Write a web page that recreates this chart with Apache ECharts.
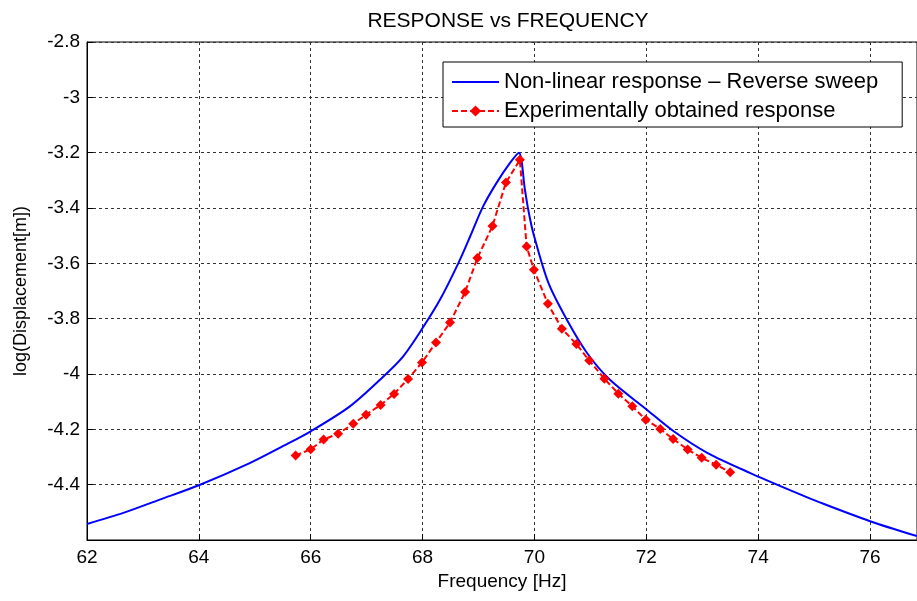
<!DOCTYPE html>
<html>
<head>
<meta charset="utf-8">
<script src="https://cdn.jsdelivr.net/npm/echarts@6/dist/echarts.min.js"></script>
<style>html,body{margin:0;padding:0;background:#fff}#c{width:917px;height:601px}</style>
</head>
<body>
<div id="c"></div>
<script>
// Non-linear response – Reverse sweep
const nlFreq = [62.0, 62.65, 63.3, 64.0, 64.91, 65.51, 66.0, 66.7, 67.3, 67.65, 68.0, 68.31, 68.64, 68.85, 69.08, 69.32, 69.56, 69.72, 69.83, 69.89, 69.98, 70.25, 70.58, 70.94, 71.35, 72.01, 72.49, 73.09, 73.86, 74.75, 75.1, 76.0, 76.84];
const nlDisp = [-4.542, -4.502, -4.454, -4.402, -4.322, -4.260, -4.207, -4.117, -4.009, -3.937, -3.834, -3.732, -3.599, -3.503, -3.395, -3.310, -3.238, -3.200, -3.334, -3.407, -3.491, -3.671, -3.804, -3.924, -4.021, -4.129, -4.207, -4.285, -4.358, -4.435, -4.464, -4.532, -4.586];
// Experimentally obtained response
const expFreq = [65.73, 66.0, 66.23, 66.49, 66.76, 66.99, 67.25, 67.49, 67.74, 67.99, 68.24, 68.49, 68.76, 68.98, 69.25, 69.49, 69.74, 69.86, 69.99, 70.24, 70.49, 70.75, 70.98, 71.25, 71.5, 71.75, 71.99, 72.25, 72.48, 72.74, 72.99, 73.25, 73.5];
const expDisp = [-4.295, -4.272, -4.237, -4.216, -4.180, -4.147, -4.112, -4.072, -4.018, -3.958, -3.886, -3.814, -3.704, -3.581, -3.465, -3.308, -3.226, -3.539, -3.623, -3.746, -3.836, -3.892, -3.951, -4.017, -4.071, -4.117, -4.165, -4.199, -4.235, -4.273, -4.303, -4.328, -4.355];
const seriesNames = ['Non-linear response \u2013 Reverse sweep', 'Experimentally obtained response'];
const titleText = 'RESPONSE vs FREQUENCY';
const xName = 'Frequency [Hz]';
const yName = 'log(Displacement[m])';
const xRange = [62, 76.84];
const yRange = [-4.6, -2.8];

const zip = (a, b) => a.map((v, i) => [v, b[i]]);
const FONT = '"Liberation Sans", Arial, Helvetica, sans-serif';
const chart = echarts.init(document.getElementById('c'), null, {renderer: 'canvas'});
chart.setOption({
  animation: false,
  backgroundColor: '#fff',
  textStyle: {fontFamily: FONT},
  title: {
    text: titleText, left: 503, top: 6, textAlign: 'center',
    textStyle: {fontFamily: FONT, fontSize: 21, fontWeight: 'normal', color: '#000'}
  },
  grid: {left: 87, top: 42, right: 0, bottom: 61, show: true, borderColor: '#000', borderWidth: 1, backgroundColor: 'transparent'},
  legend: {
    orient: 'vertical', left: 443, top: 62,
    backgroundColor: '#fff', borderColor: '#000', borderWidth: 1, borderRadius: 0,
    padding: [9, 24, 5, 8], itemGap: 7, itemWidth: 47, itemHeight: 14,
    textStyle: {fontFamily: FONT, fontSize: 22, color: '#000'},
    data: [
      {name: seriesNames[0], itemStyle: {opacity: 0}},
      {name: seriesNames[1]}
    ]
  },
  xAxis: {
    type: 'value', min: xRange[0], max: xRange[1], interval: 2,
    name: xName, nameLocation: 'middle', nameGap: 32,
    nameTextStyle: {fontFamily: FONT, fontSize: 19, color: '#000'},
    axisLine: {show: true, lineStyle: {color: '#000', width: 1}},
    axisTick: {show: true, inside: true, length: 6, lineStyle: {color: '#000'}},
    axisLabel: {show: true, margin: 8, fontFamily: FONT, fontSize: 19, color: '#000', showMaxLabel: false},
    splitLine: {show: true, lineStyle: {color: '#333', type: [3, 3], width: 1}}
  },
  yAxis: {
    type: 'value', min: yRange[0], max: yRange[1], interval: 0.2,
    name: yName, nameLocation: 'middle', nameGap: 57, nameRotate: 90,
    nameTextStyle: {fontFamily: FONT, fontSize: 18, color: '#000'},
    axisLine: {show: true, lineStyle: {color: '#000', width: 1}},
    axisTick: {show: true, inside: true, length: 6, lineStyle: {color: '#000'}},
    axisLabel: {show: true, margin: 7, fontFamily: FONT, fontSize: 19, color: '#000', showMinLabel: false,
      formatter: v => String(+(+v).toFixed(1))},
    splitLine: {show: true, lineStyle: {color: '#333', type: [3, 3], width: 1}}
  },
  series: [
    {
      name: seriesNames[0], type: 'line', data: zip(nlFreq, nlDisp),
      symbol: 'none', showSymbol: false, smooth: 0.3,
      lineStyle: {color: '#0000ff', width: 2}, itemStyle: {color: '#0000ff'}, z: 2
    },
    {
      name: seriesNames[1], type: 'line', data: zip(expFreq, expDisp),
      symbol: 'diamond', symbolSize: 10, showSymbol: true,
      lineStyle: {color: '#ff0000', width: 2, type: [6, 3]},
      itemStyle: {color: '#ff0000', borderWidth: 0}, z: 3
    }
  ]
});
</script>
</body>
</html>
